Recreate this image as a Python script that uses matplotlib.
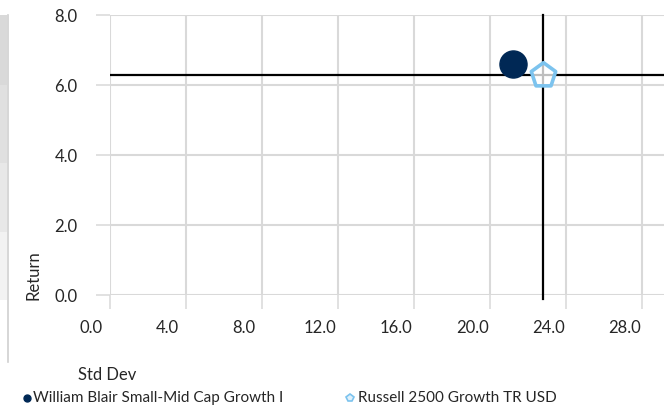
import matplotlib
matplotlib.use("Agg")
import matplotlib.pyplot as plt
from matplotlib.patches import Rectangle
from matplotlib.lines import Line2D
import matplotlib.transforms as mtransforms

# datos del grafico
nombres = ["William Blair Small-Mid Cap Growth I", "Russell 2500 Growth TR USD"]
std_dev = [21.2, 22.8]
retorno = [6.59, 6.29]
x_ticks = [0, 4, 8, 12, 16, 20, 24, 28]
y_ticks = [0, 2, 4, 6, 8]

NAVY = "#002855"
LIGHT = "#7cc3ee"
GRID = "#d9d9d9"
TXT = "#262626"

plt.rcParams["font.family"] = ["Lato", "DejaVu Sans"]

W, H = 664, 409
fig = plt.figure(figsize=(W / 100, H / 100), dpi=100)

def fx(px):
    return px / W

def fy(py):
    return 1 - py / H

# resto de la tabla a la izquierda
bandas = [(15, 85, "#d9d9d9"), (85, 163, "#e0e0e0"), (163, 232, "#e8e8e8"), (232, 300, "#f2f2f2")]
for y0, y1, c in bandas:
    fig.add_artist(Rectangle((0, fy(y1)), fx(7), fy(y0) - fy(y1), transform=fig.transFigure,
                             facecolor=c, edgecolor="none"))
fig.add_artist(Line2D([fx(7.5), fx(7.5)], [fy(15), fy(362)], transform=fig.transFigure,
                      color="#d0d0d0", lw=1.2))

ax = fig.add_axes([fx(109.5), fy(295), 1 - fx(109.5), fy(15) - fy(295)])
ax.set_xlim(0, 29.14)
ax.set_ylim(0, 8)
ax.set_xticks(x_ticks)
ax.set_yticks(y_ticks)
ax.set_xticklabels([f"{v:.1f}" for v in x_ticks])
ax.set_yticklabels([f"{v:.1f}" for v in y_ticks])
ax.grid(True, color=GRID, lw=1.5)
ax.set_axisbelow(True)
for s in ax.spines.values():
    s.set_visible(False)
ax.tick_params(axis="both", direction="out", length=10, width=1.1, color=GRID,
               labelsize=12, labelcolor=TXT)
ax.tick_params(axis="y", pad=13)
ax.tick_params(axis="x", pad=8)

off = mtransforms.ScaledTranslation(-0.18, 0, fig.dpi_scale_trans)
for lab in ax.get_xticklabels():
    lab.set_transform(lab.get_transform() + off)

# lineas de referencia en el benchmark
ax.axhline(retorno[1], xmin=0, xmax=1, color="black", lw=1.6, zorder=2)
ax.plot([std_dev[1], std_dev[1]], [-0.1, 8], color="black", lw=1.6, zorder=2, clip_on=False)

ax.scatter(std_dev[0], retorno[0], s=380, color=NAVY, zorder=4)
ax.scatter(std_dev[1], retorno[1], s=340, marker="p", facecolor=(1, 1, 1, 0.75),
           edgecolor=LIGHT, linewidths=2.6, zorder=4)

fig.text(fx(78), fy(375), "Std Dev", fontsize=12, color=TXT, va="center", ha="left")
fig.text(fx(33), fy(275), "Return", fontsize=12, color=TXT, va="center", ha="center",
         rotation=90)

# leyenda
fig.add_artist(Line2D([fx(26.6)], [fy(398)], transform=fig.transFigure, marker="o",
                      markersize=5, color=NAVY, linestyle="none"))
fig.text(fx(33), fy(398), nombres[0], fontsize=11, color=TXT, va="center", ha="left")
fig.add_artist(Line2D([fx(350)], [fy(398)], transform=fig.transFigure, marker="p",
                      markersize=6, markerfacecolor="#dff1fc", markeredgecolor=LIGHT,
                      markeredgewidth=1.2, linestyle="none"))
fig.text(fx(358), fy(398), nombres[1], fontsize=11, color=TXT, va="center", ha="left")

fig.savefig("out.png", dpi=100)
